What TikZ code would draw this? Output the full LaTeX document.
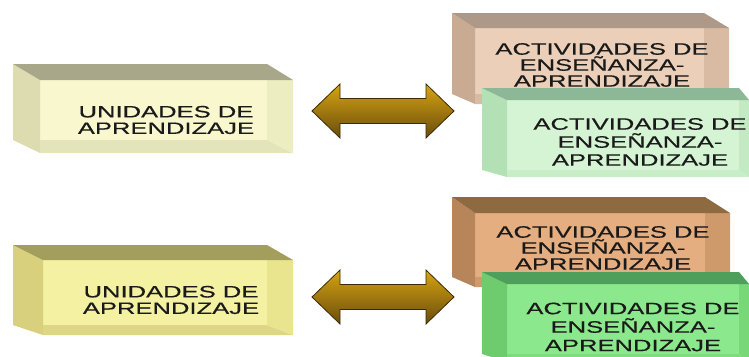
\documentclass[tikz,border=0pt]{standalone}
\usepackage{fontspec}
\newfontfamily\boxfont[FakeStretch=1.55,FakeBold=0.4]{Liberation Sans}
\definecolor{txt}{HTML}{1A1A1A}
% unit box 1
\definecolor{uatop}{HTML}{A8A78A}\definecolor{ualeft}{HTML}{DCDCB0}\definecolor{uafront}{HTML}{F9F7CE}\definecolor{uaright}{HTML}{EDEDC2}\definecolor{uabot}{HTML}{E4E4BA}
% unit box 2
\definecolor{ubtop}{HTML}{A49E5C}\definecolor{ubleft}{HTML}{D8D07C}\definecolor{ubfront}{HTML}{F4F1A2}\definecolor{ubright}{HTML}{E9E48E}\definecolor{ubbot}{HTML}{DDD685}
% brown 1
\definecolor{batop}{HTML}{AE9888}\definecolor{baleft}{HTML}{C9AA93}\definecolor{bafront}{HTML}{EBCFB8}\definecolor{baright}{HTML}{D9BAA3}\definecolor{babot}{HTML}{D9BAA3}
% green 1
\definecolor{gatop}{HTML}{8CB898}\definecolor{galeft}{HTML}{B4E0B6}\definecolor{gafront}{HTML}{D4F4D4}\definecolor{garight}{HTML}{C4EAC4}\definecolor{gabot}{HTML}{C8EEC8}
% brown 2
\definecolor{bbtop}{HTML}{8E6A40}\definecolor{bbleft}{HTML}{B8845A}\definecolor{bbfront}{HTML}{E4AE80}\definecolor{bbright}{HTML}{CE9A6C}\definecolor{bbbot}{HTML}{CE9A6C}
% green 2
\definecolor{gbtop}{HTML}{4E9E5C}\definecolor{gbleft}{HTML}{6ECC6E}\definecolor{gbfront}{HTML}{8CE88C}\definecolor{gbright}{HTML}{78D878}\definecolor{gbbot}{HTML}{7CDC7C}
% arrows
\definecolor{arrtop}{HTML}{D6A412}\definecolor{arrbot}{HTML}{6A4C0C}\definecolor{arrline}{HTML}{3A2A06}
% #1 prefix, #2 x0, #3 y0, #4 x1, #5 y1, #6 L, #7 T, #8 R, #9 B
\newcommand\bevelbox[9]{%
  \fill[#1front] ({#2+#6},{#3+#7}) rectangle ({#4-#8},{#5-#9});
  \fill[#1left] (#2,#3) -- ({#2+#6},{#3+#7}) -- ({#2+#6},#5) -- (#2,{#5-#9}) -- cycle;
  \fill[#1bot] ({#2+#6},{#5-#9}) -- ({#4-#8},{#5-#9}) -- (#4,#5) -- ({#2+#6},#5) -- cycle;
  \fill[#1right] ({#4-#8},{#3+#7}) -- (#4,{#3+#7}) -- (#4,#5) -- ({#4-#8},{#5-#9}) -- cycle;
  \fill[#1top] (#2,#3) -- ({#4-#8},#3) -- (#4,{#3+#7}) -- ({#2+#6},{#3+#7}) -- cycle;
}
% #1 x left tip, #2 x right tip, #3 y center
\newcommand\dblarrow[3]{%
  \shade[top color=arrtop, bottom color=arrbot, draw=arrline, line width=0.8pt, line join=miter]
    (#1,#3) -- ({#1+28},{#3-27}) -- ({#1+28},{#3-12.5}) -- ({#2-28},{#3-12.5}) -- ({#2-28},{#3-27})
    -- (#2,#3) -- ({#2-28},{#3+27}) -- ({#2-28},{#3+12.5}) -- ({#1+28},{#3+12.5}) -- ({#1+28},{#3+27}) -- cycle;
}
\begin{document}
\begin{tikzpicture}[x=1pt,y=-1pt,
  utext/.style={align=center, inner sep=0pt, text=txt, font=\boxfont\fontsize{16.5}{16.5}\selectfont},
  atext/.style={align=center, inner sep=0pt, text=txt, font=\boxfont\fontsize{16.5}{#1}\selectfont},
  atext/.default=18]
\useasboundingbox[fill=white] (0,0) rectangle (749,356);
% top row
\bevelbox{ua}{13}{64}{293}{153}{27}{16}{26}{13}
\node[utext] (u1) at (166,120) {UNIDADES DE\\APRENDIZAJE};
\dblarrow{312}{454}{111}
\bevelbox{ba}{452}{13}{729}{104}{23}{15}{25}{10}
\node[atext=16] (a1) at (602,65) {ACTIVIDADES DE\\ENSEÑANZA-\\APRENDIZAJE};
\bevelbox{ga}{482}{88}{749}{177}{25}{12}{10}{7}
\node[atext=18] (g1) at (640,142) {ACTIVIDADES DE\\ENSEÑANZA-\\APRENDIZAJE};
% bottom row
\bevelbox{ub}{13}{245}{293}{335}{30}{15}{26}{10}
\node[utext] (u2) at (171,300) {UNIDADES DE\\APRENDIZAJE};
\dblarrow{312}{454}{297}
\bevelbox{bb}{452}{197}{730}{287}{23}{16}{25}{10}
\node[atext=16] (a2) at (603,248) {ACTIVIDADES DE\\ENSEÑANZA-\\APRENDIZAJE};
\bevelbox{gb}{482}{272}{749}{362}{25}{12}{10}{8}
\node[atext=18.5] (g2) at (633,327) {ACTIVIDADES DE\\ENSEÑANZA-\\APRENDIZAJE};
\end{tikzpicture}
\end{document}
